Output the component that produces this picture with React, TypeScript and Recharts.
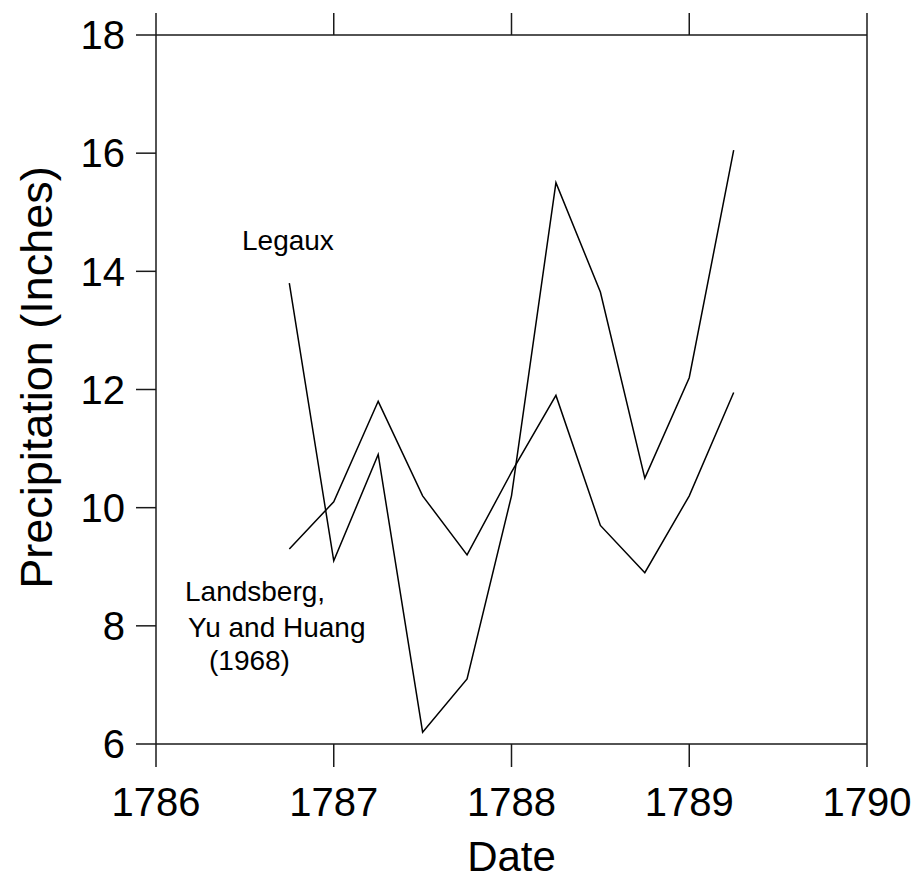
import { LineChart, Line, XAxis, YAxis, Label, Customized } from 'recharts';

const dates = [1786.75, 1787, 1787.25, 1787.5, 1787.75, 1788, 1788.25, 1788.5, 1788.75, 1789, 1789.25];
const legaux = [13.8, 9.1, 10.9, 6.2, 7.1, 10.2, 15.5, 13.65, 10.5, 12.2, 16.05];
const landsberg = [9.3, 10.1, 11.8, 10.2, 9.2, 10.6, 11.9, 9.7, 8.9, 10.2, 11.95];

const xTicks = [1786, 1787, 1788, 1789, 1790];
const yTicks = [6, 8, 10, 12, 14, 16, 18];

const data = dates.map((d, i) => ({ date: d, legaux: legaux[i], landsberg: landsberg[i] }));

const FONT = '"Liberation Sans", Arial, sans-serif';
const AXIS = '#1a1a1a';
const blank = () => '';

const YTitle = (props: any) => {
  const { viewBox } = props;
  const cx = viewBox.x + 52;
  const cy = viewBox.y + viewBox.height / 2 - 12;
  return (
    <text x={cx} y={cy} transform={`rotate(-90 ${cx} ${cy})`} textAnchor="middle"
      fontSize={45} fontFamily={FONT} fill="#000">
      Precipitation (Inches)
    </text>
  );
};

const SeriesNotes = () => (
  <g fontFamily={FONT} fontSize={28} fill="#000">
    <text x={242} y={250}>Legaux</text>
    <text x={185} y={601}>Landsberg,</text>
    <text x={188} y={637}>Yu and Huang</text>
    <text x={209} y={670}>(1968)</text>
  </g>
);

export default function App() {
  return (
    <div style={{ position: 'absolute', left: 0, top: 0, background: '#fff' }}>
      <LineChart width={919} height={881} data={data} margin={{ top: 0, right: 0, bottom: 0, left: 0 }}>
        <XAxis xAxisId="bottom" dataKey="date" type="number" domain={[1786, 1790]} ticks={xTicks}
          orientation="bottom" height={137} tickSize={23} tickMargin={21}
          axisLine={{ stroke: AXIS, strokeWidth: 1.5 }} tickLine={{ stroke: AXIS, strokeWidth: 1.5 }}
          tick={{ fill: '#000', fontSize: 40, fontFamily: FONT }}>
          <Label value="Date" position="insideBottom" offset={10} fill="#000" fontSize={42} fontFamily={FONT} />
        </XAxis>
        <XAxis xAxisId="top" dataKey="date" type="number" domain={[1786, 1790]} ticks={xTicks}
          orientation="top" height={35} tickSize={22} tickFormatter={blank}
          axisLine={{ stroke: AXIS, strokeWidth: 1.5 }} tickLine={{ stroke: AXIS, strokeWidth: 1.5 }} />
        <YAxis yAxisId="left" type="number" domain={[6, 18]} ticks={yTicks} orientation="left"
          width={156} tickSize={20} tickMargin={11}
          axisLine={{ stroke: AXIS, strokeWidth: 1.5 }} tickLine={{ stroke: AXIS, strokeWidth: 1.5 }}
          tick={{ fill: '#000', fontSize: 40, fontFamily: FONT }}>
          <Label content={<YTitle />} />
        </YAxis>
        <YAxis yAxisId="right" type="number" domain={[6, 18]} ticks={yTicks} orientation="right"
          width={52} tickSize={23} tickFormatter={blank}
          axisLine={{ stroke: AXIS, strokeWidth: 1.5 }} tickLine={{ stroke: AXIS, strokeWidth: 1.5 }} />
        <Line xAxisId="bottom" yAxisId="left" type="linear" dataKey="legaux" stroke="#000"
          strokeWidth={1.5} dot={false} isAnimationActive={false} />
        <Line xAxisId="bottom" yAxisId="left" type="linear" dataKey="landsberg" stroke="#000"
          strokeWidth={1.5} dot={false} isAnimationActive={false} />
        <Customized component={SeriesNotes} />
      </LineChart>
    </div>
  );
}
